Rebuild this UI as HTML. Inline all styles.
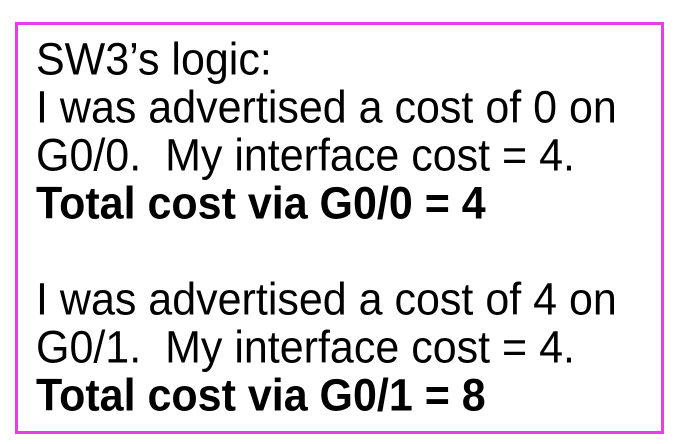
<!DOCTYPE html>
<html><head><style>
body{margin:0;width:689px;height:444px;background:#fff;position:relative;overflow:hidden;font-family:"Liberation Sans",sans-serif;}
.box{position:absolute;left:15px;top:22px;width:643px;height:406px;border:3px solid #e83ee8;box-sizing:content-box;}
.t{position:absolute;left:36px;font-size:43px;line-height:48px;color:#000;white-space:nowrap;transform:scaleY(1.06);transform-origin:0 60%;}
b{font-weight:bold;}
</style></head><body>
<div class="box"></div>
<div class="t" style="top:36px">SW3’s logic:</div>
<div class="t" style="top:84px">I was advertised a cost of 0 on</div>
<div class="t" style="top:132px">G0/0.&nbsp; My interface cost = 4.</div>
<div class="t" style="top:180px"><b>Total cost via G0/0 = 4</b></div>
<div class="t" style="top:276px">I was advertised a cost of 4 on</div>
<div class="t" style="top:324px">G0/1.&nbsp; My interface cost = 4.</div>
<div class="t" style="top:372px"><b>Total cost via G0/1 = 8</b></div>
</body></html>
